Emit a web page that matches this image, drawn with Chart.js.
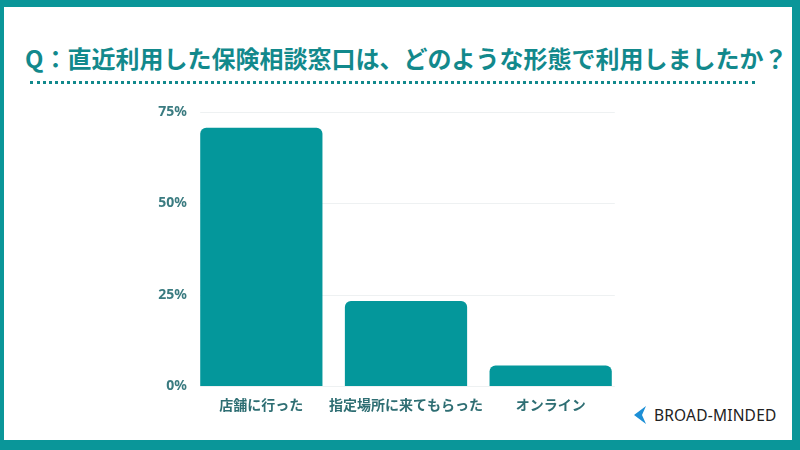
<!DOCTYPE html>
<html>
<head>
<meta charset="utf-8">
<script src="https://cdn.jsdelivr.net/npm/chart.js@4"></script>
<style>
  html,body{margin:0;padding:0;background:#fff;}
  #frame{position:relative;width:800px;height:450px;box-sizing:border-box;background:#fff;
    border-style:solid;border-color:#0a9699;border-width:7px 8px 10px 4px;overflow:hidden;}
  #title{position:absolute;left:21px;top:33px;width:770px;white-space:nowrap;
    font-family:"Noto Sans CJK JP","Noto Sans",sans-serif;font-weight:700;font-size:24px;color:#12898c;}
  #dots{position:absolute;left:26px;top:74px;width:725px;border-top:3px dotted #12898c;}
  #chartBox{position:absolute;left:121px;top:85px;width:498px;height:324px;}
  #logo{position:absolute;left:628px;top:397px;display:flex;align-items:center;}
  #logo span{font-family:"Noto Sans",sans-serif;font-size:15.5px;color:#222;margin-left:6px;letter-spacing:0.2px;}
</style>
</head>
<body>
<div id="frame">
  <div id="title">Q：直近利用した保険相談窓口は、どのような形態で利用しましたか？</div>
  <div id="dots"></div>
  <div id="chartBox"><canvas id="c"></canvas></div>
  <div id="logo">
    <svg width="16" height="20" viewBox="0 0 16 20"><path d="M14 1 L2 10 L14 19 L10 10 Z" fill="#1d8fd6"/></svg>
    <span>BROAD-MINDED</span>
  </div>
</div>
<script>
  var categories = ["店舗に行った", "指定場所に来てもらった", "オンライン"];
  var shares = [70.7, 23.3, 5.6];
  var yTicks = [0, 25, 50, 75];

  // horizontal grid lines spanning only from the first bar to the last bar
  var barGrid = {
    id: "barGrid",
    beforeDatasetsDraw: function(chart){
      var bars = chart.getDatasetMeta(0).data;
      if(!bars.length) return;
      var first = bars[0], last = bars[bars.length - 1];
      var x0 = first.x - first.width / 2, x1 = last.x + last.width / 2 + 3;
      var y = chart.scales.y, ctx = chart.ctx;
      ctx.save();
      ctx.strokeStyle = "#eef1f2";
      ctx.lineWidth = 1;
      yTicks.forEach(function(v){
        var py = Math.round(y.getPixelForValue(v)) + 0.5;
        ctx.beginPath(); ctx.moveTo(x0, py); ctx.lineTo(x1, py); ctx.stroke();
      });
      ctx.restore();
    }
  };

  new Chart(document.getElementById("c"), {
    type: "bar",
    data: {
      labels: categories,
      datasets: [{ data: shares, backgroundColor: "#04979b", borderRadius: { topLeft: 6, topRight: 6 }, borderSkipped: "bottom",
        barPercentage: 0.845, categoryPercentage: 1 }]
    },
    options: {
      responsive: true, maintainAspectRatio: false, animation: false,
      layout: { padding: { top: 20, right: 0 } },
      plugins: { legend: { display: false }, tooltip: { enabled: false } },
      scales: {
        x: {
          grid: { display: false },
          border: { display: false },
          ticks: { color: "#2e6e73", padding: 2, maxRotation: 0, minRotation: 0, autoSkip: false,
            font: { family: "Noto Sans CJK JP", weight: "bold", size: 14 } },
          afterFit: function(s){ s.height = 30; }
        },
        y: {
          min: 0, max: 75,
          afterBuildTicks: function(s){ s.ticks = yTicks.map(function(v){ return { value: v }; }); },
          grid: { display: false, drawTicks: false },
          border: { display: false },
          ticks: { color: "#3a7b80", padding: 2, font: { family: "Noto Sans", weight: "bold", size: 14 },
            callback: function(v){ return v + "%"; } },
          afterFit: function(s){ s.width = 64; }
        }
      }
    },
    plugins: [barGrid]
  });
</script>
</body>
</html>
